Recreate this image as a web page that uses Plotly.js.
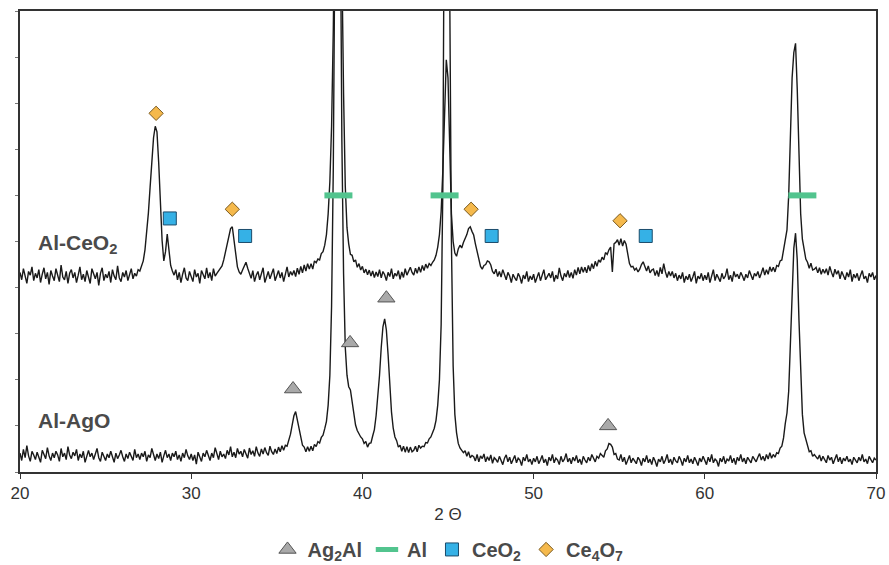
<!DOCTYPE html>
<html>
<head>
<meta charset="utf-8">
<script src="https://cdn.plot.ly/plotly-3.0.1.min.js"></script>
<style>html,body{margin:0;padding:0;background:#fff;}#chart{width:889px;height:565px;}</style>
</head>
<body>
<div id="chart"></div>
<script>
// 2θ sampling of the scans (degrees)
const twoThetaStart = 20;
const twoThetaStep = 0.1;

// Al-CeO2 scan, intensity (arbitrary, offset), 20.0 .. 70.0 step 0.1
const alCeO2 = [
4.33,4.17,4.41,4.23,4.09,4.35,4.27,4.45,4.15,4.31,
4.21,4.39,4.11,4.29,4.43,4.19,4.33,4.07,4.37,4.25,
4.15,4.41,4.27,4.13,4.49,4.23,4.17,4.35,4.09,4.31,
4.39,4.21,4.33,4.11,4.27,4.45,4.17,4.29,4.13,4.37,
4.23,4.09,4.41,4.27,4.19,4.33,4.05,4.31,4.43,4.15,
4.29,4.21,4.35,4.11,4.39,4.25,4.17,4.47,4.21,4.13,
4.33,4.23,4.37,4.15,4.29,4.41,4.19,4.31,4.25,4.39,
4.36,4.45,4.58,4.82,5.18,5.62,6.18,6.78,7.25,7.50,
7.38,6.72,5.82,5.02,4.58,4.78,5.16,4.88,4.48,4.36,
4.27,4.39,4.17,4.33,4.11,4.29,4.43,4.21,4.15,4.35,
4.25,4.13,4.39,4.23,4.31,4.09,4.37,4.27,4.19,4.43,
4.21,4.33,4.15,4.41,4.25,4.31,4.37,4.40,4.47,4.60,
4.78,4.92,5.08,5.28,5.32,5.02,4.70,4.45,4.34,4.29,
4.38,4.46,4.55,4.42,4.31,4.20,4.37,4.13,4.27,4.35,
4.17,4.31,4.43,4.11,4.25,4.35,4.19,4.29,4.41,4.15,
4.27,4.37,4.21,4.33,4.13,4.31,4.45,4.23,4.35,4.27,
4.37,4.24,4.42,4.29,4.46,4.32,4.49,4.36,4.52,4.40,
4.52,4.40,4.58,4.54,4.62,4.60,4.74,4.78,4.92,5.15,
5.60,6.30,7.50,9.60,14.0,20.0,20.0,14.0,10.5,8.20,
6.20,5.30,4.95,4.72,4.70,4.56,4.60,4.44,4.52,4.38,
4.46,4.32,4.40,4.28,4.38,4.25,4.36,4.22,4.34,4.24,
4.39,4.21,4.35,4.28,4.15,4.33,4.24,4.41,4.19,4.31,
4.25,4.37,4.18,4.34,4.22,4.41,4.27,4.35,4.44,4.33,
4.27,4.42,4.31,4.45,4.33,4.48,4.37,4.51,4.42,4.52,
4.48,4.55,4.60,4.70,4.88,5.15,5.65,6.55,7.80,8.94,
8.55,7.00,5.60,5.00,4.75,4.68,4.84,4.92,4.86,4.98,
5.06,5.15,5.28,5.32,5.22,5.14,4.95,4.76,4.60,4.46,
4.40,4.48,4.50,4.58,4.56,4.49,4.35,4.30,4.40,4.24,
4.35,4.23,4.39,4.27,4.17,4.33,4.25,4.11,4.29,4.21,
4.15,4.31,4.23,4.09,4.27,4.19,4.35,4.13,4.25,4.17,
4.29,4.11,4.23,4.33,4.15,4.27,4.39,4.17,4.25,4.31,
4.21,4.35,4.13,4.27,4.19,4.43,4.25,4.15,4.31,4.23,
4.37,4.22,4.33,4.20,4.39,4.27,4.44,4.30,4.45,4.33,
4.44,4.32,4.48,4.36,4.52,4.41,4.57,4.46,4.60,4.55,
4.66,4.60,4.76,4.72,4.82,4.88,4.34,4.95,4.98,5.04,
4.92,5.06,4.90,5.02,4.94,4.72,4.52,4.45,4.46,4.38,
4.42,4.34,4.40,4.50,4.56,4.46,4.36,4.47,4.32,4.38,
4.40,4.26,4.37,4.24,4.44,4.30,4.52,4.34,4.22,4.35,
4.25,4.35,4.21,4.31,4.15,4.27,4.19,4.33,4.11,4.25,
4.17,4.29,4.13,4.23,4.35,4.09,4.25,4.19,4.31,4.15,
4.27,4.17,4.33,4.11,4.25,4.39,4.15,4.29,4.21,4.13,
4.31,4.19,4.25,4.41,4.17,4.27,4.13,4.35,4.23,4.29,
4.19,4.33,4.25,4.15,4.29,4.21,4.37,4.27,4.17,4.31,
4.25,4.35,4.21,4.31,4.43,4.27,4.39,4.29,4.45,4.35,
4.44,4.34,4.48,4.46,4.58,4.60,4.80,5.00,5.25,6.00,
7.35,8.55,9.10,9.30,8.30,6.60,5.60,5.05,4.80,4.62,
4.55,4.42,4.53,4.38,4.40,4.44,4.32,4.43,4.29,4.40,
4.31,4.41,4.27,4.46,4.33,4.23,4.40,4.29,4.37,4.19,
4.35,4.27,4.17,4.33,4.23,4.39,4.13,4.29,4.21,4.31,
4.15,4.27,4.37,4.19,4.25,4.11,4.31,4.23,4.33,4.17,
4.26
];

// Al-AgO scan, intensity (arbitrary), 20.0 .. 70.0 step 0.1
const alAgO = [
0.41,0.25,0.49,0.31,0.57,0.35,0.23,0.45,0.37,0.27,
0.43,0.33,0.21,0.47,0.39,0.29,0.53,0.35,0.25,0.41,
0.31,0.45,0.37,0.23,0.51,0.33,0.41,0.27,0.55,0.37,
0.29,0.43,0.35,0.49,0.25,0.39,0.31,0.45,0.21,0.37,
0.47,0.33,0.41,0.27,0.37,0.51,0.31,0.23,0.43,0.35,
0.25,0.39,0.31,0.45,0.35,0.21,0.41,0.29,0.37,0.47,
0.33,0.23,0.39,0.29,0.43,0.35,0.25,0.49,0.31,0.39,
0.27,0.41,0.33,0.45,0.23,0.37,0.31,0.51,0.35,0.25,
0.39,0.29,0.43,0.21,0.35,0.47,0.31,0.39,0.25,0.41,
0.33,0.45,0.27,0.37,0.23,0.41,0.31,0.49,0.35,0.27,
0.39,0.25,0.37,0.17,0.43,0.31,0.23,0.41,0.33,0.47,
0.35,0.25,0.41,0.31,0.53,0.37,0.27,0.45,0.33,0.39,
0.29,0.47,0.37,0.55,0.33,0.43,0.31,0.51,0.39,0.45,
0.33,0.49,0.41,0.30,0.52,0.38,0.46,0.34,0.55,0.41,
0.34,0.50,0.39,0.53,0.42,0.36,0.56,0.44,0.38,0.50,
0.40,0.54,0.44,0.57,0.47,0.58,0.56,0.68,0.82,1.02,
1.22,1.31,1.12,0.88,0.72,0.58,0.54,0.44,0.55,0.45,
0.56,0.46,0.60,0.55,0.66,0.63,0.75,0.80,0.94,1.10,
1.45,2.10,3.60,6.60,12.0,22.0,22.0,13.0,7.20,4.30,
2.70,2.10,1.85,1.78,1.52,1.22,1.02,0.90,0.82,0.76,
0.72,0.62,0.66,0.54,0.62,0.63,0.78,0.92,1.22,1.62,
2.10,2.70,3.15,3.32,3.08,2.55,1.88,1.30,0.95,0.76,
0.68,0.54,0.58,0.45,0.56,0.43,0.55,0.42,0.54,0.44,
0.47,0.56,0.44,0.58,0.52,0.56,0.55,0.64,0.63,0.72,
0.76,0.84,0.95,1.12,1.45,2.00,3.20,6.20,12.5,22.0,
20.0,10.5,5.00,2.30,1.25,0.85,0.62,0.52,0.46,0.42,
0.46,0.34,0.44,0.31,0.36,0.33,0.24,0.38,0.22,0.35,
0.29,0.39,0.22,0.33,0.25,0.37,0.19,0.31,0.27,0.21,
0.34,0.23,0.16,0.30,0.37,0.22,0.32,0.18,0.28,0.36,
0.20,0.30,0.26,0.14,0.32,0.24,0.38,0.22,0.28,0.16,
0.30,0.22,0.34,0.18,0.26,0.36,0.20,0.28,0.14,0.32,
0.24,0.38,0.20,0.30,0.26,0.16,0.34,0.22,0.28,0.40,
0.22,0.30,0.18,0.32,0.24,0.36,0.20,0.28,0.16,0.34,
0.26,0.20,0.32,0.24,0.38,0.28,0.22,0.34,0.30,0.40,
0.36,0.32,0.46,0.50,0.62,0.60,0.54,0.38,0.40,0.28,
0.26,0.38,0.22,0.32,0.16,0.28,0.36,0.20,0.30,0.24,
0.18,0.32,0.26,0.14,0.30,0.22,0.36,0.20,0.28,0.16,
0.32,0.24,0.12,0.28,0.22,0.34,0.18,0.26,0.38,0.20,
0.28,0.16,0.32,0.24,0.20,0.34,0.26,0.14,0.30,0.22,
0.36,0.20,0.28,0.18,0.32,0.24,0.14,0.30,0.22,0.34,
0.26,0.16,0.32,0.22,0.38,0.20,0.28,0.24,0.12,0.30,
0.22,0.34,0.18,0.28,0.24,0.36,0.20,0.30,0.16,0.32,
0.24,0.38,0.22,0.30,0.18,0.32,0.26,0.20,0.34,0.28,
0.22,0.32,0.40,0.26,0.34,0.24,0.38,0.28,0.42,0.30,
0.38,0.32,0.42,0.40,0.52,0.56,0.74,1.05,1.28,1.75,
2.70,3.90,4.85,5.18,4.60,3.30,2.05,1.25,0.85,0.70,
0.58,0.44,0.46,0.34,0.38,0.33,0.28,0.37,0.24,0.34,
0.28,0.20,0.36,0.26,0.32,0.18,0.28,0.38,0.22,0.32,
0.18,0.30,0.24,0.34,0.22,0.28,0.16,0.32,0.26,0.20,
0.32,0.24,0.38,0.22,0.28,0.18,0.34,0.26,0.20,0.30,
0.26
];

// Phase markers (2θ, marker height)
const ag2alX = [35.95, 39.28, 41.40, 54.35];
const ag2alY = [1.80, 2.80, 3.77, 1.00];
const alX = [38.60, 44.80, 65.70];
const alY = [6.00, 6.00, 6.00];
const ceo2X = [28.75, 33.15, 47.55, 56.55];
const ceo2Y = [5.50, 5.12, 5.12, 5.12];
const ce4o7X = [27.95, 32.40, 46.35, 55.05];
const ce4o7Y = [7.78, 5.70, 5.70, 5.45];

// Axis ticks and texts
const xTicks = [20, 30, 40, 50, 60, 70];
const xTickText = ['20', '30', '40', '50', '60', '70'];
const sampleNames = ['Al-CeO<sub>2</sub>', 'Al-AgO'];
const legendNames = ['Ag<sub>2</sub>Al', 'Al', 'CeO<sub>2</sub>', 'Ce<sub>4</sub>O<sub>7</sub>'];

const scanLine = {color: '#1a1a1a', width: 1.4};

const traces = [
  {type: 'scatter', mode: 'lines', x0: twoThetaStart, dx: twoThetaStep, y: alCeO2,
   line: scanLine, showlegend: false, hoverinfo: 'skip'},
  {type: 'scatter', mode: 'lines', x0: twoThetaStart, dx: twoThetaStep, y: alAgO,
   line: scanLine, showlegend: false, hoverinfo: 'skip'},
  {type: 'scatter', mode: 'markers', name: legendNames[0], x: ag2alX, y: ag2alY,
   marker: {symbol: 'triangle-up', size: 15, color: '#a9a9a9', line: {color: '#555555', width: 1}}},
  {type: 'scatter', mode: 'markers', name: legendNames[1], x: alX, y: alY,
   marker: {symbol: 'line-ew', size: 20, color: '#52c48e', line: {color: '#52c48e', width: 6}}},
  {type: 'scatter', mode: 'markers', name: legendNames[2], x: ceo2X, y: ceo2Y,
   marker: {symbol: 'square', size: 13, color: '#35b1e6', line: {color: '#1b4c6b', width: 1}}},
  {type: 'scatter', mode: 'markers', name: legendNames[3], x: ce4o7X, y: ce4o7Y,
   marker: {symbol: 'diamond', size: 11, color: '#f5b94c', line: {color: '#7a5a20', width: 1}}}
];

const layout = {
  width: 889, height: 565,
  margin: {l: 20, r: 13, t: 11, b: 93, autoexpand: false},
  paper_bgcolor: '#ffffff', plot_bgcolor: '#ffffff',
  font: {family: 'Liberation Sans, Arial, sans-serif', color: '#333333', size: 17},
  showlegend: true,
  legend: {orientation: 'h', x: 0.5, xanchor: 'center', y: -0.168, yanchor: 'middle',
    font: {size: 20, color: '#4a4a4a', weight: 'bold'}, itemwidth: 30, tracegroupgap: 0},
  xaxis: {range: [20, 70], tickmode: 'array', tickvals: xTicks, ticktext: xTickText,
    ticks: 'outside', ticklen: 5, tickwidth: 1, tickcolor: '#333333',
    showline: true, linecolor: '#333333', linewidth: 2, mirror: true,
    showgrid: false, zeroline: false, automargin: false,
    tickfont: {size: 17, color: '#333333'},
    title: {text: '2 Θ', font: {size: 17, color: '#333333'}, standoff: 6}},
  yaxis: {range: [0, 10], dtick: 1, tick0: 0, ticks: 'outside', ticklen: 3, tickwidth: 1,
    tickcolor: '#777777', showticklabels: false, automargin: false,
    showline: true, linecolor: '#333333', linewidth: 2, mirror: true,
    showgrid: false, zeroline: false},
  annotations: [
    {x: 20.93, y: 4.95, xref: 'x', yref: 'y', text: sampleNames[0], showarrow: false,
     xanchor: 'left', yanchor: 'middle', font: {size: 21, color: '#4a4a4a', weight: 'bold'}},
    {x: 20.93, y: 1.12, xref: 'x', yref: 'y', text: sampleNames[1], showarrow: false,
     xanchor: 'left', yanchor: 'middle', font: {size: 21, color: '#4a4a4a', weight: 'bold'}}
  ]
};

Plotly.newPlot('chart', traces, layout, {staticPlot: true, displayModeBar: false});
</script>
</body>
</html>
